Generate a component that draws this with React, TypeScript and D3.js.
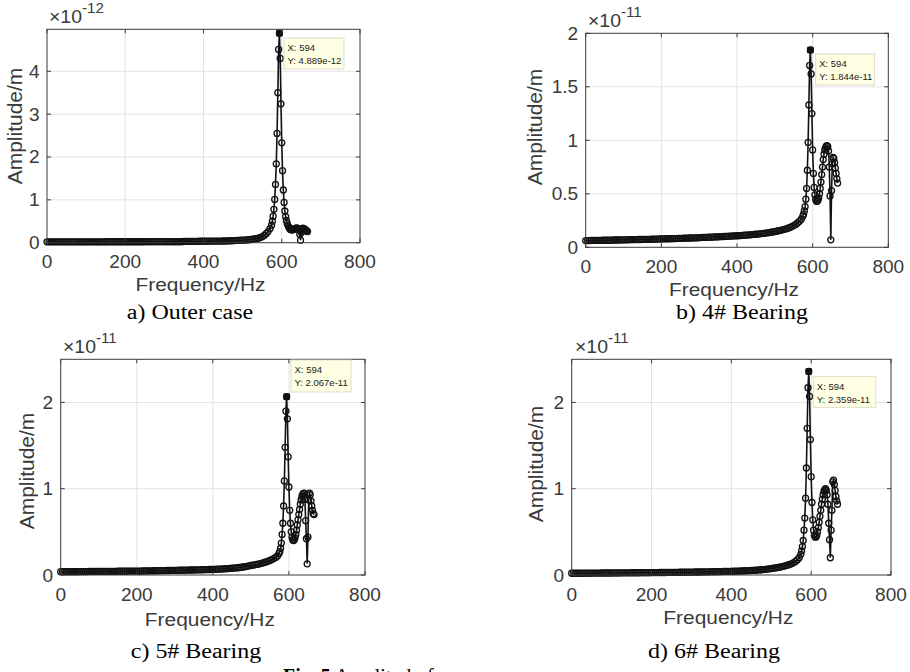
import * as d3 from 'd3'

// frequency grid (Hz): 5 Hz below the resonance, 2 Hz around it
const FREQ_COARSE = d3.range(0, 571, 5)
const FREQ_FINE = d3.range(574, 667, 2)
const FREQ = [...FREQ_COARSE, ...FREQ_FINE]

const X_TICKS = [0, 200, 400, 600, 800]

// a) outer case, x1e-12 m
const CASE_COARSE = [
  0.02, 0.02, 0.02, 0.02, 0.02, 0.02, 0.02, 0.02, 0.02, 0.02,
  0.02, 0.02, 0.02, 0.02, 0.02, 0.02, 0.02, 0.02, 0.02, 0.02,
  0.02, 0.02, 0.02, 0.02, 0.02, 0.02, 0.02, 0.02, 0.02, 0.02,
  0.022, 0.022, 0.022, 0.022, 0.022, 0.022, 0.022, 0.022, 0.022, 0.022,
  0.022, 0.022, 0.022, 0.022, 0.022, 0.022, 0.022, 0.022, 0.022, 0.022,
  0.025, 0.025, 0.025, 0.025, 0.025, 0.025, 0.025, 0.025, 0.025, 0.025,
  0.025, 0.025, 0.025, 0.025, 0.025, 0.025, 0.025, 0.025, 0.025, 0.025,
  0.03, 0.03, 0.031, 0.031, 0.032, 0.032, 0.033, 0.033, 0.034, 0.034,
  0.035, 0.035, 0.036, 0.036, 0.037, 0.037, 0.038, 0.038, 0.039, 0.039,
  0.04, 0.041, 0.042, 0.044, 0.046, 0.048, 0.05, 0.052, 0.055, 0.058,
  0.06, 0.062, 0.065, 0.069, 0.074, 0.08, 0.087, 0.095, 0.105, 0.12,
  0.14, 0.17, 0.21, 0.26, 0.33,
]
const CASE_FINE = [
  0.41, 0.5, 0.62, 0.78, 1.01, 1.36, 1.84, 2.55, 3.5, 4.51,
  4.889,
  4.3, 3.24, 2.33, 1.68, 1.23, 0.94, 0.74, 0.61, 0.52, 0.45,
  0.4, 0.36, 0.33, 0.31, 0.3, 0.3, 0.3, 0.31, 0.32, 0.33,
  0.34, 0.34, 0.34, 0.33, 0.3, 0.2, 0.06, 0.24, 0.32, 0.34,
  0.33, 0.32, 0.3, 0.29, 0.27, 0.26,
]

// b) 4# bearing, x1e-11 m
const B4_COARSE = [
  0.063, 0.063, 0.063, 0.064, 0.064, 0.064, 0.065, 0.065, 0.065, 0.066,
  0.066, 0.066, 0.067, 0.067, 0.067, 0.068, 0.068, 0.068, 0.069, 0.069,
  0.07, 0.07, 0.07, 0.071, 0.071, 0.072, 0.072, 0.072, 0.073, 0.073,
  0.074, 0.074, 0.074, 0.075, 0.075, 0.076, 0.076, 0.077, 0.077, 0.078,
  0.078, 0.079, 0.079, 0.08, 0.08, 0.081, 0.081, 0.082, 0.082, 0.083,
  0.084, 0.084, 0.085, 0.085, 0.086, 0.087, 0.087, 0.088, 0.089, 0.089,
  0.09, 0.091, 0.092, 0.092, 0.093, 0.094, 0.095, 0.096, 0.097, 0.097,
  0.098, 0.099, 0.1, 0.101, 0.102, 0.103, 0.104, 0.105, 0.106, 0.107,
  0.108, 0.109, 0.11, 0.112, 0.113, 0.114, 0.116, 0.117, 0.119, 0.12,
  0.122, 0.124, 0.126, 0.128, 0.13, 0.133, 0.135, 0.138, 0.141, 0.144,
  0.147, 0.151, 0.155, 0.159, 0.163, 0.168, 0.173, 0.179, 0.186, 0.194,
  0.203, 0.214, 0.227, 0.243, 0.262,
]
const B4_FINE = [
  0.29, 0.31, 0.34, 0.38, 0.45, 0.55, 0.72, 0.98, 1.33, 1.7,
  1.844,
  1.62, 1.25, 0.91, 0.69, 0.56, 0.49, 0.45, 0.43, 0.43, 0.44,
  0.46, 0.5, 0.55, 0.61, 0.68, 0.75, 0.82, 0.87, 0.91, 0.93,
  0.945, 0.95, 0.94, 0.9, 0.75, 0.48, 0.07, 0.53, 0.78, 0.84,
  0.83, 0.79, 0.74, 0.69, 0.64, 0.6,
]

// c) 5# bearing, x1e-11 m
const B5_COARSE = [
  0.038, 0.038, 0.038, 0.038, 0.038, 0.039, 0.039, 0.039, 0.039, 0.039,
  0.04, 0.04, 0.04, 0.04, 0.04, 0.041, 0.041, 0.041, 0.041, 0.041,
  0.042, 0.042, 0.042, 0.042, 0.042, 0.043, 0.043, 0.043, 0.043, 0.043,
  0.044, 0.044, 0.044, 0.044, 0.044, 0.045, 0.045, 0.045, 0.045, 0.045,
  0.046, 0.046, 0.046, 0.047, 0.047, 0.047, 0.048, 0.048, 0.048, 0.049,
  0.049, 0.05, 0.05, 0.05, 0.051, 0.051, 0.052, 0.052, 0.053, 0.053,
  0.054, 0.054, 0.055, 0.055, 0.056, 0.056, 0.057, 0.057, 0.058, 0.058,
  0.059, 0.059, 0.06, 0.06, 0.061, 0.062, 0.062, 0.063, 0.064, 0.064,
  0.065, 0.066, 0.067, 0.068, 0.069, 0.07, 0.071, 0.073, 0.074, 0.076,
  0.078, 0.08, 0.082, 0.084, 0.087, 0.09, 0.093, 0.097, 0.101, 0.106,
  0.11, 0.114, 0.118, 0.122, 0.127, 0.132, 0.138, 0.145, 0.152, 0.16,
  0.169, 0.179, 0.19, 0.203, 0.22,
]
const B5_FINE = [
  0.25, 0.27, 0.31, 0.37, 0.47, 0.6, 0.8, 1.09, 1.48, 1.9,
  2.067,
  1.81, 1.37, 1.02, 0.75, 0.6, 0.5, 0.44, 0.41, 0.4, 0.41,
  0.43, 0.47, 0.52, 0.58, 0.64, 0.7, 0.76, 0.82, 0.87, 0.91,
  0.93, 0.945, 0.95, 0.88, 0.63, 0.42, 0.13, 0.44, 0.87, 0.95,
  0.93, 0.86, 0.8, 0.75, 0.71, 0.7,
]

// d) 6# bearing, x1e-11 m
const B6_COARSE = [
  0.02, 0.02, 0.02, 0.02, 0.02, 0.021, 0.021, 0.021, 0.021, 0.021,
  0.022, 0.022, 0.022, 0.022, 0.022, 0.023, 0.023, 0.023, 0.023, 0.023,
  0.024, 0.024, 0.024, 0.024, 0.024, 0.025, 0.025, 0.025, 0.025, 0.025,
  0.026, 0.026, 0.026, 0.026, 0.026, 0.027, 0.027, 0.027, 0.027, 0.027,
  0.028, 0.028, 0.028, 0.028, 0.029, 0.029, 0.029, 0.029, 0.03, 0.03,
  0.03, 0.031, 0.031, 0.031, 0.032, 0.032, 0.032, 0.033, 0.033, 0.033,
  0.034, 0.034, 0.035, 0.035, 0.035, 0.036, 0.036, 0.037, 0.037, 0.037,
  0.038, 0.038, 0.039, 0.039, 0.04, 0.04, 0.041, 0.041, 0.042, 0.042,
  0.043, 0.044, 0.044, 0.045, 0.046, 0.047, 0.048, 0.049, 0.05, 0.051,
  0.052, 0.054, 0.055, 0.057, 0.059, 0.061, 0.063, 0.066, 0.069, 0.072,
  0.075, 0.078, 0.082, 0.086, 0.09, 0.095, 0.1, 0.106, 0.113, 0.121,
  0.13, 0.141, 0.155, 0.175, 0.2,
]
const B6_FINE = [
  0.24, 0.28, 0.33, 0.4, 0.52, 0.66, 0.89, 1.24, 1.7, 2.17,
  2.359,
  2.07, 1.57, 1.14, 0.84, 0.64, 0.52, 0.46, 0.44, 0.44, 0.46,
  0.5, 0.55, 0.61, 0.68, 0.75, 0.82, 0.88, 0.93, 0.97, 0.99,
  1.0, 0.98, 0.93, 0.82, 0.6, 0.41, 0.2, 0.52, 0.75, 1.08,
  1.1, 1.05, 0.98, 0.91, 0.86, 0.82,
]

const PEAK_FREQ = 594

const PANELS = [
  {
    id: 'a', values: [...CASE_COARSE, ...CASE_FINE], yMax: 4.98, yTicks: [0, 1, 2, 3, 4],
    exp: '-12', tipY: '4.889e-12', caption: 'a) Outer case',
    left: 47, right: 360, top: 29.3, bottom: 242.7,
    expX: 49, expY: 23, yLabX: 22, yLabY: 126, xLabY: 291,
    capX: 190, capY: 319, tip: { x: 284, y: 38, w: 60, h: 31 },
  },
  {
    id: 'b', values: [...B4_COARSE, ...B4_FINE], yMax: 2, yTicks: [0, 0.5, 1, 1.5, 2],
    exp: '-11', tipY: '1.844e-11', caption: 'b) 4# Bearing',
    left: 585.7, right: 888.3, top: 33.3, bottom: 247.3,
    expX: 588, expY: 27, yLabX: 542, yLabY: 127, xLabY: 296,
    capX: 742, capY: 319, tip: { x: 815.7, y: 54, w: 59, h: 31 },
  },
  {
    id: 'c', values: [...B5_COARSE, ...B5_FINE], yMax: 2.5, yTicks: [0, 1, 2],
    exp: '-11', tipY: '2.067e-11', caption: 'c) 5# Bearing',
    left: 60.7, right: 365, top: 359.3, bottom: 575,
    expX: 63, expY: 353, yLabX: 34, yLabY: 471, xLabY: 626,
    capX: 196, capY: 658, tip: { x: 291, y: 360, w: 60, h: 32 },
  },
  {
    id: 'd', values: [...B6_COARSE, ...B6_FINE], yMax: 2.5, yTicks: [0, 1, 2],
    exp: '-11', tipY: '2.359e-11', caption: 'd) 6# Bearing',
    left: 571.7, right: 891, top: 359.3, bottom: 575,
    expX: 575, expY: 353, yLabX: 543, yLabY: 464, xLabY: 624,
    capX: 714, capY: 658, tip: { x: 813.3, y: 376.7, w: 62.5, h: 30.6 },
  },
]

const SANS = '"Liberation Sans", Arial, Helvetica, sans-serif'
const SERIF = '"Liberation Serif", "Times New Roman", serif'
const AXIS_COLOR = '#3a3a3a'
const TICK_LEN = 4

type P = (typeof PANELS)[number]

function Panel({ p }: { p: P }) {
  const x = d3.scaleLinear().domain([0, 800]).range([p.left, p.right])
  const y = d3.scaleLinear().domain([0, p.yMax]).range([p.bottom, p.top])
  const line = d3
    .line<number>()
    .x((_, i) => x(FREQ[i]))
    .y((d) => y(d))
  const peakIdx = FREQ.indexOf(PEAK_FREQ)
  const peakVal = p.values[peakIdx]

  return (
    <g>
      {/* grid */}
      {X_TICKS.filter((t) => t > 0 && t < 800).map((t) => (
        <line key={'gx' + t} x1={x(t)} x2={x(t)} y1={p.top} y2={p.bottom} stroke="#e3e3e3" />
      ))}
      {p.yTicks.filter((t) => t > 0 && y(t) > p.top + 1).map((t) => (
        <line key={'gy' + t} x1={p.left} x2={p.right} y1={y(t)} y2={y(t)} stroke="#e3e3e3" />
      ))}

      {/* data */}
      <path d={line(p.values) || ''} fill="none" stroke="#111" strokeWidth={1.6} />
      {p.values.map((v, i) => (
        <circle key={i} cx={x(FREQ[i])} cy={y(v)} r={3} fill="none" stroke="#111" strokeWidth={1.3} />
      ))}
      <rect x={x(PEAK_FREQ) - 3.2} y={y(peakVal) - 3.2} width={6.4} height={6.4} fill="#111" />

      {/* box + ticks */}
      <rect x={p.left} y={p.top} width={p.right - p.left} height={p.bottom - p.top} fill="none" stroke={AXIS_COLOR} strokeWidth={1} />
      {X_TICKS.map((t) => (
        <g key={'tx' + t}>
          <line x1={x(t)} x2={x(t)} y1={p.bottom} y2={p.bottom - TICK_LEN} stroke={AXIS_COLOR} />
          <line x1={x(t)} x2={x(t)} y1={p.top} y2={p.top + TICK_LEN} stroke={AXIS_COLOR} />
          <text
            transform={`translate(${x(t)},${p.bottom + 25.5}) scale(1.06,1)`}
            textAnchor="middle" fontFamily={SANS} fontSize={18} fill={AXIS_COLOR}
          >
            {t}
          </text>
        </g>
      ))}
      {p.yTicks.map((t) => (
        <g key={'ty' + t}>
          <line x1={p.left} x2={p.left + TICK_LEN} y1={y(t)} y2={y(t)} stroke={AXIS_COLOR} />
          <line x1={p.right} x2={p.right - TICK_LEN} y1={y(t)} y2={y(t)} stroke={AXIS_COLOR} />
          <text
            transform={`translate(${p.left - 7.5},${y(t) + 6.5}) scale(1.06,1)`}
            textAnchor="end" fontFamily={SANS} fontSize={18} fill={AXIS_COLOR}
          >
            {String(t)}
          </text>
        </g>
      ))}

      {/* exponent */}
      <text transform={`translate(${p.expX},${p.expY}) scale(1.08,1)`} fontFamily={SANS} fontSize={18} fill={AXIS_COLOR}>
        <tspan>×10</tspan>
        <tspan dy={-10} fontSize={14}>{p.exp}</tspan>
      </text>

      {/* axis labels */}
      <text
        transform={`translate(${(p.left + p.right) / 2 - 3},${p.xLabY}) scale(1.1,1)`}
        textAnchor="middle" fontFamily={SANS} fontSize={19} fill={AXIS_COLOR}
      >
        Frequency/Hz
      </text>
      <text
        transform={`translate(${p.yLabX},${p.yLabY}) rotate(-90)`}
        textAnchor="middle" fontFamily={SANS} fontSize={21} fill={AXIS_COLOR}
      >
        Amplitude/m
      </text>

      {/* data tip */}
      <rect x={p.tip.x} y={p.tip.y} width={p.tip.w} height={p.tip.h} fill="#ffffe3" stroke="#d6d6c2" strokeWidth={0.8} />
      <text x={p.tip.x + 3.5} y={p.tip.y + 13} fontFamily={SANS} fontSize={9.5} fill="#222">
        X: {PEAK_FREQ}
      </text>
      <text x={p.tip.x + 3.5} y={p.tip.y + 26} fontFamily={SANS} fontSize={9.5} fill="#222">
        Y: {p.tipY}
      </text>

      {/* caption */}
      <text
        transform={`translate(${p.capX},${p.capY}) scale(1.17,1)`}
        textAnchor="middle" fontFamily={SERIF} fontSize={20.5} fill="#000"
      >
        {p.caption}
      </text>
    </g>
  )
}

export default function App() {
  return (
    <svg
      width={910}
      height={672}
      style={{ position: 'absolute', left: 0, top: 0, background: '#fff' }}
    >
      <rect width={910} height={672} fill="#fff" />
      {PANELS.map((p) => (
        <Panel key={p.id} p={p} />
      ))}
      <text x={283} y={683} fontFamily={SERIF} fontSize={20} fill="#000">
        <tspan fontWeight="bold">Fig. 5</tspan>
        <tspan> Amplitude-frequency response curves</tspan>
      </text>
    </svg>
  )
}
